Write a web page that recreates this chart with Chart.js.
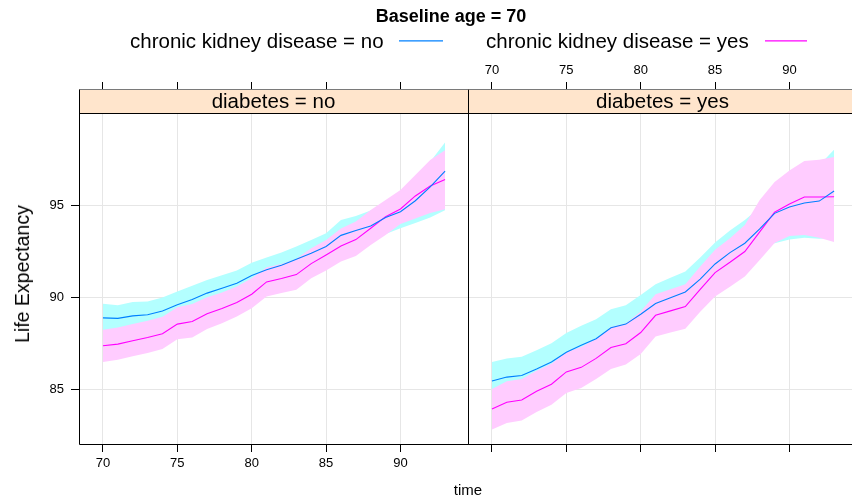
<!DOCTYPE html>
<html>
<head>
<meta charset="utf-8">
<script src="https://cdn.jsdelivr.net/npm/chart.js@4.4.1/dist/chart.umd.min.js"></script>
<style>
  html, body { margin: 0; padding: 0; background: #fff; width: 852px; height: 500px; overflow: hidden; }
  #wrap { position: relative; width: 852px; height: 500px; overflow: hidden; font-family: 'Liberation Sans', Arial, Helvetica, sans-serif; color: #000; }
  canvas { position: absolute; top: 0; }
  .t { position: absolute; white-space: nowrap; }
  svg.lg { position: absolute; left: 0; top: 0; }
</style>
</head>
<body>
<div id="wrap">
  <canvas id="c1" width="469" height="500" style="left:0px;width:469px;height:500px"></canvas>
  <canvas id="c2" width="390" height="500" style="left:468px;width:390px;height:500px"></canvas>
  <div class="t" style="left:451px;top:6px;font-size:18px;line-height:20px;font-weight:bold;transform:translateX(-50%)">Baseline age = 70</div>
  <div class="t" style="left:130px;top:29px;font-size:20.5px;line-height:24px">chronic kidney disease = no</div>
  <div class="t" style="left:486px;top:29px;font-size:20.5px;line-height:24px">chronic kidney disease = yes</div>
  <svg class="lg" width="852" height="60">
    <line x1="399" y1="40.8" x2="443" y2="40.8" stroke="#0080FF" stroke-width="1.2"/>
    <line x1="765" y1="40.8" x2="807" y2="40.8" stroke="#FF00FF" stroke-width="1.2"/>
  </svg>
  <div class="t" style="left:22px;top:274px;font-size:19.5px;line-height:22px;transform:translate(-50%,-50%) rotate(-90deg)">Life Expectancy</div>
  <div class="t" style="left:468px;top:490px;font-size:15px;line-height:18px;transform:translate(-50%,-50%)">time</div>
</div>
<script>
// ---- data ----
const years = [70,71,72,73,74,75,76,77,78,79,80,81,82,83,84,85,86,87,88,89,90,91,92,93];
const xTicks = [70, 75, 80, 85, 90];
const yTicks = [85, 90, 95];
const panels = ["diabetes = no", "diabetes = yes"];
const seriesNames = ["chronic kidney disease = no", "chronic kidney disease = yes"];

// diabetes = no panel
const noDiabCkdNo      = [88.88,88.85,88.99,89.05,89.25,89.59,89.88,90.23,90.50,90.77,91.19,91.50,91.75,92.08,92.40,92.77,93.38,93.64,93.89,94.36,94.67,95.27,96.03,96.89];
const noDiabCkdNoUpper = [89.65,89.57,89.74,89.77,89.99,90.32,90.63,90.95,91.21,91.46,91.88,92.17,92.44,92.77,93.13,93.49,94.22,94.44,94.73,95.10,95.50,96.20,97.40,98.45];
const noDiabCkdNoLower = [88.11,88.13,88.24,88.33,88.51,88.86,89.13,89.51,89.79,90.08,90.50,90.83,91.06,91.39,91.67,92.05,92.54,92.84,93.05,93.45,93.77,94.05,94.35,94.75];
const noDiabCkdYes      = [87.36,87.45,87.63,87.81,88.01,88.54,88.68,89.10,89.39,89.72,90.17,90.84,91.03,91.24,91.84,92.31,92.80,93.15,93.77,94.40,94.82,95.53,96.07,96.43];
const noDiabCkdYesUpper = [88.23,88.36,88.54,88.72,88.94,89.46,89.63,90.01,90.26,90.59,91.04,91.64,91.82,92.10,92.68,93.13,93.75,94.13,94.76,95.31,95.85,96.67,97.49,98.03];
const noDiabCkdYesLower = [86.47,86.60,86.78,86.96,87.18,87.72,87.81,88.27,88.59,88.96,89.41,90.05,90.23,90.41,91.04,91.46,91.95,92.26,92.86,93.40,94.00,94.30,94.60,94.80];

// diabetes = yes panel
const diabCkdNo      = [85.44,85.65,85.74,86.09,86.47,87.00,87.38,87.74,88.34,88.54,89.08,89.66,89.98,90.29,90.99,91.82,92.44,92.95,93.73,94.58,94.93,95.15,95.25,95.80];
const diabCkdNoUpper = [86.47,86.67,86.76,87.11,87.50,88.05,88.45,88.81,89.35,89.57,90.13,90.71,91.07,91.41,92.17,92.99,93.64,94.22,94.90,95.60,96.10,96.60,97.20,98.05];
const diabCkdNoLower = [84.41,84.63,84.72,85.07,85.44,85.95,86.31,86.67,87.33,87.51,88.03,88.61,88.89,89.17,89.81,90.65,91.24,91.68,92.53,92.95,93.15,93.25,93.20,93.25];
const diabCkdYes      = [83.91,84.28,84.40,84.88,85.26,85.93,86.18,86.67,87.26,87.47,88.08,89.02,89.26,89.50,90.44,91.35,91.91,92.50,93.57,94.64,95.09,95.47,95.47,95.49];
const diabCkdYesUpper = [85.00,85.42,85.55,86.00,86.38,87.00,87.29,87.74,88.38,88.58,89.23,90.17,90.44,90.72,91.68,92.59,93.22,93.95,95.31,96.29,96.92,97.43,97.50,97.65];
const diabCkdYesLower = [82.79,83.15,83.28,83.74,84.14,84.78,85.06,85.55,86.09,86.33,86.91,87.87,88.08,88.29,89.22,90.04,90.58,91.13,92.04,92.97,93.35,93.40,93.25,93.02];

// ---- styling ----
const FONT = "'Liberation Sans', Arial, Helvetica, sans-serif";
Chart.defaults.font.family = FONT;
Chart.defaults.color = '#000';
const XMIN = 68.39, XMAX = 94.54, YMIN = 82.0, YMAX = 100.0;
const BLUE = '#0080FF', MAGENTA = '#FF00FF', CYAN_BAND = '#B3FFFF', PINK_BAND = '#FFCCFF';
const GRID = '#E6E6E6';

const pts = arr => years.map((t, i) => ({ x: t, y: arr[i] }));

function makeDatasets(ckdNo, ckdNoU, ckdNoL, ckdYes, ckdYesU, ckdYesL) {
  const band = (d, fill, bg) => ({ data: pts(d), borderColor: 'transparent', borderWidth: 0, pointRadius: 0, fill: fill, backgroundColor: bg || 'transparent' });
  return [
    { label: seriesNames[0], data: pts(ckdNo), borderColor: BLUE, borderWidth: 1.1, pointRadius: 0, fill: false },
    { label: seriesNames[1], data: pts(ckdYes), borderColor: MAGENTA, borderWidth: 1.1, pointRadius: 0, fill: false },
    band(ckdYesL, false),
    band(ckdYesU, '-1', PINK_BAND),
    band(ckdNoL, false),
    band(ckdNoU, '-1', CYAN_BAND)
  ];
}

const stripPlugin = {
  id: 'strip',
  afterDraw(chart, args, opts) {
    const { ctx, chartArea: a } = chart;
    const x0 = a.left + 0.5, x1 = a.right + 0.5, y0 = a.top - 0.5, y1 = a.bottom + 0.5;
    ctx.save();
    ctx.fillStyle = '#FFE5CC';
    ctx.fillRect(a.left, 89, a.right - a.left + 1, a.top - 89);
    ctx.strokeStyle = '#7a7a7a';
    ctx.lineWidth = 1;
    ctx.beginPath(); ctx.moveTo(x0, 89.5); ctx.lineTo(x1, 89.5); ctx.stroke();
    ctx.strokeStyle = '#000';
    ctx.beginPath();
    ctx.moveTo(x0, 89.5); ctx.lineTo(x0, y1);
    ctx.moveTo(x1, 89.5); ctx.lineTo(x1, y1);
    ctx.moveTo(x0, y0); ctx.lineTo(x1, y0);
    ctx.moveTo(x0, y1); ctx.lineTo(x1, y1);
    ctx.stroke();
    ctx.fillStyle = '#000';
    ctx.font = '20.5px ' + FONT;
    ctx.textAlign = 'center';
    ctx.textBaseline = 'alphabetic';
    ctx.fillText(opts.text, (a.left + a.right) / 2, 108);
    ctx.restore();
  }
};

function setTicks(list) { return s => { s.ticks = list.map(v => ({ value: v })); }; }

function makeChart(id, datasets, stripText, isLeft) {
  return new Chart(document.getElementById(id), {
    type: 'line',
    data: { datasets },
    plugins: [stripPlugin],
    options: {
      responsive: false,
      animation: false,
      devicePixelRatio: 1,
      layout: { padding: { left: 0, right: 1, top: 0, bottom: 0 } },
      plugins: { legend: { display: false }, tooltip: { enabled: false }, strip: { text: stripText } },
      elements: { line: { tension: 0 } },
      scales: {
        x: {
          type: 'linear', position: 'bottom', min: XMIN, max: XMAX,
          afterBuildTicks: setTicks(xTicks),
          afterFit: s => { s.height = 56; },
          grid: { color: GRID, tickColor: '#000', tickLength: 8, lineWidth: 1 },
          border: { display: false },
          ticks: { display: isLeft, font: { size: 13 }, color: '#000', padding: 4, maxRotation: 0, autoSkip: false }
        },
        x2: {
          type: 'linear', position: 'top', min: XMIN, max: XMAX,
          afterBuildTicks: setTicks(xTicks),
          afterFit: s => { s.height = 114; },
          grid: { drawOnChartArea: false, tickColor: '#000', tickLength: 32, lineWidth: 1 },
          border: { display: false },
          ticks: { display: !isLeft, font: { size: 13 }, color: '#000', padding: 4, maxRotation: 0, autoSkip: false }
        },
        y: {
          type: 'linear', position: 'left', min: YMIN, max: YMAX,
          afterBuildTicks: setTicks(yTicks),
          afterFit: s => { s.width = isLeft ? 79 : 0; },
          grid: { color: GRID, tickColor: '#000', tickLength: 8, drawTicks: isLeft, lineWidth: 1 },
          border: { display: false },
          ticks: { display: isLeft, font: { size: 13 }, color: '#000', padding: 7 }
        }
      }
    }
  });
}

makeChart('c1', makeDatasets(noDiabCkdNo, noDiabCkdNoUpper, noDiabCkdNoLower, noDiabCkdYes, noDiabCkdYesUpper, noDiabCkdYesLower), panels[0], true);
makeChart('c2', makeDatasets(diabCkdNo, diabCkdNoUpper, diabCkdNoLower, diabCkdYes, diabCkdYesUpper, diabCkdYesLower), panels[1], false);
</script>
</body>
</html>
